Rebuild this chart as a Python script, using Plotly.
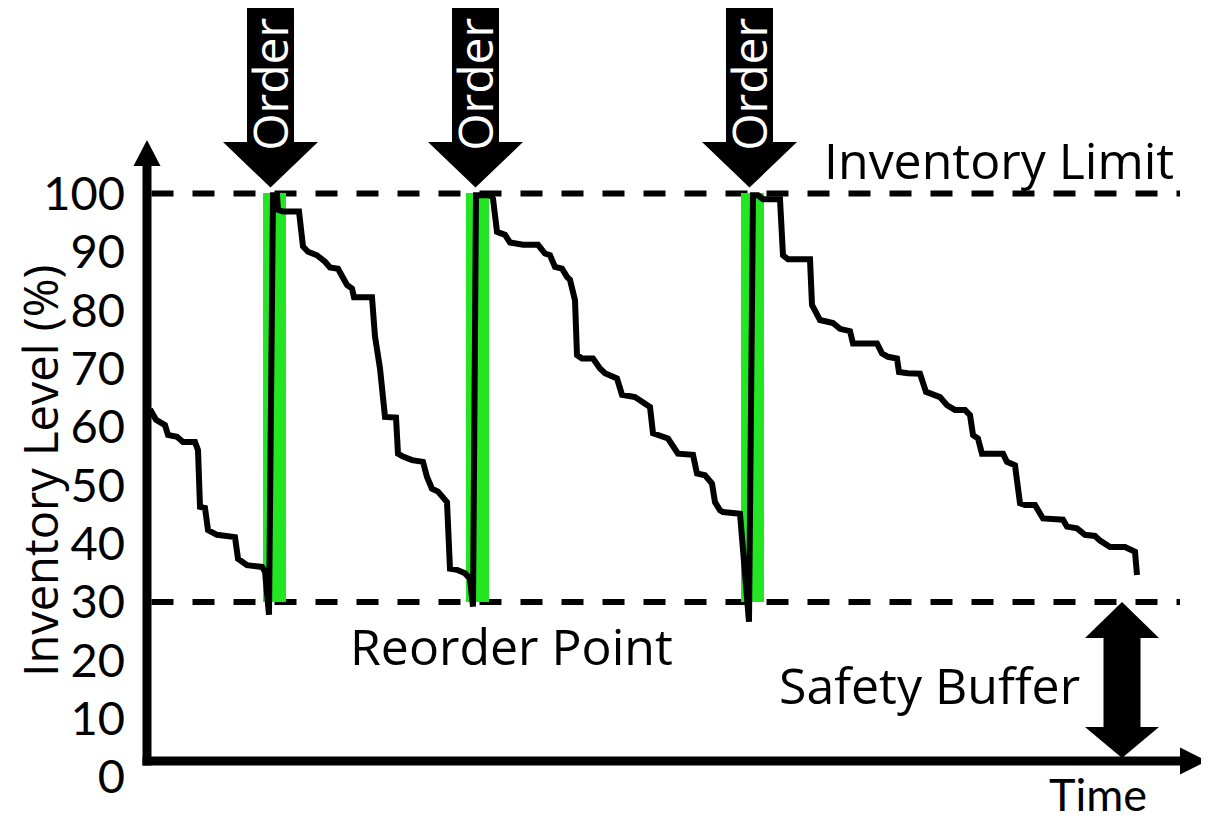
import plotly.graph_objects as go

# ---------------- data ----------------
time = [0.3, 0.9, 1.8, 2.1, 3.0, 3.6, 4.8, 5.1, 5.3, 5.8, 6.1, 7.0, 8.8, 9.1, 10.0, 11.5, 11.8, 12.2,
        12.6, 13.0, 13.1, 13.6, 15.2, 15.6, 16.1, 17.0, 17.8, 18.3, 19.1, 19.6, 20.0, 20.5, 20.7, 22.5,
        22.8, 23.3, 23.8, 24.9, 25.1, 25.6, 26.5, 27.6, 28.0, 28.5, 29.1, 30.0, 30.3, 31.0, 31.8, 32.3,
        32.6, 32.9, 34.3, 34.6, 35.0, 35.8, 36.3, 37.6, 39.1, 39.8, 40.3, 40.8, 41.5, 42.0, 42.3, 42.8,
        43.0, 43.5, 44.6, 45.3, 45.8, 47.0, 47.5, 48.8, 49.6, 50.3, 50.6, 51.3, 52.1, 53.1, 54.6, 55.0,
        55.8, 56.5, 56.8, 57.3, 57.6, 59.3, 59.6, 60.2, 60.6, 61.1, 61.6, 63.3, 63.6, 64.1, 66.3, 66.5,
        67.3, 68.6, 69.3, 70.3, 70.6, 73.0, 73.5, 74.1, 75.0, 75.2, 76.1, 77.3, 77.9, 78.5, 79.3, 80.0,
        80.8, 81.8, 82.3, 82.6, 83.1, 83.5, 85.6, 86.0, 86.8, 87.3, 87.8, 88.8, 89.6, 91.6, 92.0, 93.0,
        93.8, 94.8, 95.3, 96.3, 97.8, 98.8, 99.0]
level = [63.0, 61.2, 60.3, 58.6, 58.3, 57.4, 57.4, 56.0, 46.3, 46.1, 42.3, 41.5, 41.1, 37.4, 36.3, 36.0, 35.2, 27.8,
         99.7, 99.7, 97.2, 96.9, 96.9, 90.9, 90.0, 89.4, 88.3, 87.3, 87.1, 85.7, 84.3, 83.7, 82.2, 82.2,
         75.5, 70.0, 61.7, 61.6, 55.4, 54.9, 54.3, 54.0, 51.4, 49.4, 48.9, 47.1, 35.7, 35.5, 34.9, 34.0,
         29.2, 99.7, 99.7, 99.1, 93.4, 92.9, 91.6, 91.2, 91.2, 89.7, 89.4, 87.4, 87.1, 85.7, 85.2, 81.7,
         72.3, 71.7, 71.7, 70.0, 69.2, 68.3, 65.5, 65.1, 64.3, 63.4, 58.9, 58.6, 58.0, 55.4, 55.2, 52.0,
         51.7, 50.3, 47.1, 45.7, 45.4, 45.1, 38.9, 26.6, 99.7, 99.7, 99.0, 99.0, 89.4, 88.7, 88.7, 80.9,
         78.3, 77.8, 76.8, 76.4, 74.3, 74.3, 72.6, 72.0, 71.7, 69.4, 69.2, 69.1, 66.0, 65.5, 65.1, 63.7,
         62.9, 62.9, 62.0, 58.6, 58.0, 55.4, 55.4, 54.0, 53.4, 46.9, 46.6, 46.6, 44.3, 44.1, 42.9, 42.6,
         41.5, 41.3, 40.5, 39.4, 39.4, 38.6, 34.6]

order_time = [12.35, 32.85, 60.25]      # moments an order is placed
lead_start = [11.6, 31.9, 59.4]         # green replenishment window
lead_end = [13.9, 34.2, 61.7]

LIMIT = 100          # inventory limit (%)
REORDER = 30         # reorder point (%)
tick_vals = [0, 10, 20, 30, 40, 50, 60, 70, 80, 90, 100]
tick_text = [str(v) for v in tick_vals]

# ---------------- layout geometry ----------------
W, H = 1201, 812
X_RANGE = [-1.5, 106.2]
Y_RANGE = [0, 131.77]
AXIS_Y = 2.74          # where the time axis is drawn
X_END = 103.3          # end of time axis shaft / dashed lines
FONT = "Open Sans"
TICK_FONT = "Lato"


def xp(t):
    return (t - X_RANGE[0]) / (X_RANGE[1] - X_RANGE[0])


def yp(v):
    return (v - Y_RANGE[0]) / (Y_RANGE[1] - Y_RANGE[0])


fig = go.Figure()

# green replenishment windows
fig.add_trace(go.Bar(
    x=[(a + b) / 2 for a, b in zip(lead_start, lead_end)],
    y=[LIMIT - REORDER] * len(lead_start),
    base=REORDER,
    width=[b - a for a, b in zip(lead_start, lead_end)],
    marker=dict(color="#22e622", line=dict(width=0)),
    hoverinfo="skip",
    showlegend=False,
))

# inventory level line
fig.add_trace(go.Scatter(
    x=time, y=level, mode="lines",
    line=dict(color="black", width=6),
    showlegend=False, hoverinfo="skip",
))

shapes = []
# dashed reference lines
for lvl in (LIMIT, REORDER):
    shapes.append(dict(type="line", xref="x", yref="y", x0=0.45, x1=X_END, y0=lvl, y1=lvl,
                       line=dict(color="black", width=6, dash="22px,19px"), layer="below"))

# y axis with arrow
shapes.append(dict(type="line", xref="x", yref="y", x0=0, x1=0, y0=AXIS_Y - 0.77, y1=104.7,
                   line=dict(color="black", width=9)))
shapes.append(dict(type="path", xref="x", yref="y",
                   path="M -1.35,104.7 L 0,109.15 L 1.35,104.7 Z",
                   fillcolor="black", line=dict(width=0)))
# x axis with arrow
shapes.append(dict(type="line", xref="x", yref="y", x0=-0.45, x1=X_END, y0=AXIS_Y, y1=AXIS_Y,
                   line=dict(color="black", width=9)))
shapes.append(dict(type="path", xref="x", yref="y",
                   path=f"M {X_END},{AXIS_Y - 2.31} L 106.0,{AXIS_Y} L {X_END},{AXIS_Y + 2.31} Z",
                   fillcolor="black", line=dict(width=0)))

# order arrows
for t in order_time:
    tip = LIMIT + 1.0
    base = 108.8
    top = 134.0
    p = (f"M {t-2.35},{top} L {t-2.35},{base} L {t-4.75},{base} L {t},{tip} "
         f"L {t+4.75},{base} L {t+2.35},{base} L {t+2.35},{top} Z")
    shapes.append(dict(type="path", xref="x", yref="y", path=p,
                       fillcolor="black", line=dict(width=0)))

# safety buffer double arrow
c = 97.5
hb_top, hb_bot = 23.8, 8.57
p = (f"M {c},{REORDER} L {c+3.7},{hb_top} L {c+1.85},{hb_top} L {c+1.85},{hb_bot} "
     f"L {c+3.7},{hb_bot} L {c},{AXIS_Y + 0.5} L {c-3.7},{hb_bot} L {c-1.85},{hb_bot} "
     f"L {c-1.85},{hb_top} L {c-3.7},{hb_top} Z")
shapes.append(dict(type="path", xref="x", yref="y", path=p, fillcolor="black", line=dict(width=0)))

annotations = []


def label(text, x, y, size=50, color="black", angle=0, family=FONT):
    annotations.append(dict(text=text, x=xp(x), y=yp(y), xref="paper", yref="paper", showarrow=False,
                            xanchor="center", yanchor="middle", textangle=angle,
                            font=dict(family=family, size=size, color=color)))


label("Inventory Limit", 85.15, 105.7)
label("Reorder Point", 36.5, 22.45)
label("Safety Buffer", 78.3, 15.8)
label("Time", 95.05, -2.9, size=45, family=TICK_FONT)
for t in order_time:
    label("Order", t - 0.1, 118.7, size=48, color="white", angle=-90)
label("Inventory Level (%)", -10.65, 52.4, size=47, angle=-90)

fig.update_layout(
    width=W, height=H,
    margin=dict(l=124, r=0, t=0, b=43, pad=0),
    paper_bgcolor="white", plot_bgcolor="white",
    font=dict(family=FONT, size=48, color="black"),
    shapes=shapes, annotations=annotations,
    showlegend=False,
    bargap=0,
    xaxis=dict(range=X_RANGE, visible=False, fixedrange=True, automargin=False),
    yaxis=dict(range=Y_RANGE, showgrid=False, zeroline=False, showline=False,
               ticks="", tickvals=tick_vals, ticktext=tick_text,
               tickfont=dict(family=TICK_FONT, size=47, color="black"),
               ticklabelstandoff=6, automargin=False, fixedrange=True),
)

fig.write_html("out.html")
